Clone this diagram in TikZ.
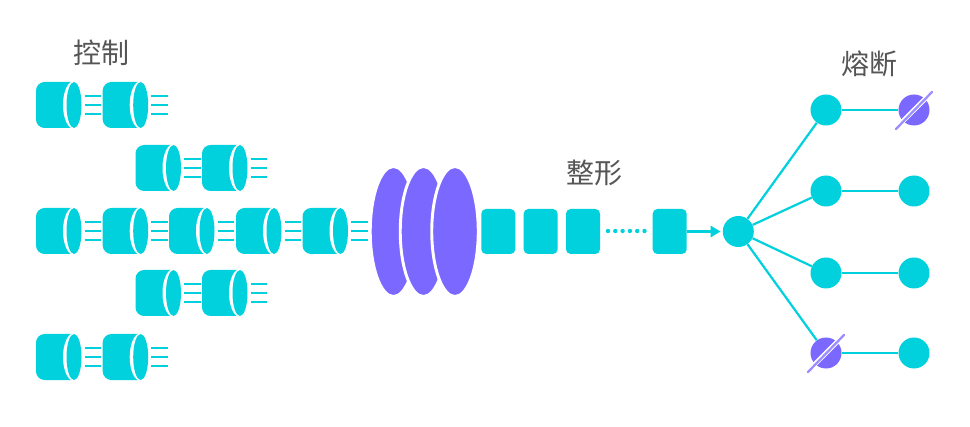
\documentclass[tikz,border=0pt]{standalone}
\usepackage{fontspec}
\newfontfamily\cjk{Noto Sans CJK SC}
\usetikzlibrary{arrows.meta,shapes.geometric}
\definecolor{teal}{HTML}{00D1DC}
\definecolor{vio}{HTML}{7B68FF}
\definecolor{txt}{HTML}{555555}
\tikzset{
  dot/.style={circle,fill=teal,draw=none,minimum size=31*0.75pt,inner sep=0pt},
  vdot/.style={circle,fill=vio,draw=none,minimum size=31*0.75pt,inner sep=0pt},
  link/.style={draw=teal,line width=1.65pt},
  stub/.style={draw=teal,line width=1.75pt},
  pkt/.style={rectangle,rounded corners=3.5pt,fill=teal,draw=none,minimum width=34*0.75pt,minimum height=45*0.75pt,inner sep=0pt},
  lens/.style={ellipse,fill=vio,draw=white,line width=2.2pt,minimum width=46.5*0.75pt,minimum height=130*0.75pt,inner sep=0pt},
  lab/.style={text=txt,font=\cjk\fontsize{21}{25}\selectfont,inner sep=0pt},
}
\newcommand{\cyl}[2]{%
  \fill[teal,rounded corners=6.5pt] (#1+44,#2-23) -- (#1,#2-23) -- (#1,#2+23) -- (#1+44,#2+23) -- cycle;
  \fill[teal] (#1+30,#2-23) rectangle (#1+38,#2+23);
  \fill[white] (#1+38,#2) ellipse [x radius=11,y radius=24];
  \fill[teal] (#1+38,#2) ellipse [x radius=7.5,y radius=23];
  \foreach \d in {-9,0,9} \draw[stub] (#1+48.5,#2+\d) -- (#1+65,#2+\d);
}
\begin{document}
\begin{tikzpicture}[x=0.75pt,y=-0.75pt]
\useasboundingbox (0,0) rectangle (970,427);
\fill[white] (0,0) rectangle (970,427);
\node[lab] (t1) at (101,53) {控制};
\node[lab] (t2) at (594,173) {整形};
\node[lab] (t3) at (869,64) {熔断};
\cyl{36}{105}\cyl{102.7}{105}
\cyl{135.5}{168}\cyl{202}{168}
\foreach \x in {36,102.7,169,236,302.5} {\cyl{\x}{231}}
\cyl{135.5}{293}\cyl{202}{293}
\cyl{36}{357}\cyl{102.7}{357}
\node[lens] (l1) at (393.5,231.5) {};
\node[lens] (l2) at (423.5,231.5) {};
\node[lens] (l3) at (455,231.5) {};
\node[pkt] (p1) at (498.3,231.5) {};
\node[pkt] (p2) at (540.6,231.5) {};
\node[pkt] (p3) at (583,231.5) {};
\node[pkt] (p4) at (669.7,231.5) {};
\foreach \x in {608,615.3,622.6,629.9,637.2,644.5} \fill[teal] (\x,231) circle [radius=2.2];
\node[dot] (hub) at (738.3,231.5) {};
\node[dot] (a1) at (826,110) {};
\node[vdot] (b1) at (914,110) {};
\node[dot] (a2) at (826,191) {};
\node[dot] (b2) at (914,191) {};
\node[dot] (a3) at (826,273) {};
\node[dot] (b3) at (914,273) {};
\node[vdot] (a4) at (826,353) {};
\node[dot] (b4) at (914,353) {};
\draw[link,shorten >=1.5pt,-{Triangle[length=7.5pt,width=8.5pt]}] (p4) -- (hub);
\foreach \t in {a1,a2,a3,a4} \draw[link] (hub) -- (\t);
\foreach \i in {1,2,3,4} \draw[link] (a\i) -- (b\i);
\foreach \c in {b1,a4} {
  \draw[white,line width=3.6pt] ([shift={(-14,14)}]\c.center) -- ([shift={(14,-14)}]\c.center);
  \draw[vio!75,line width=1.7pt,line cap=round] ([shift={(-18,19)}]\c.center) -- ([shift={(18,-18)}]\c.center);
}
\end{tikzpicture}
\end{document}
